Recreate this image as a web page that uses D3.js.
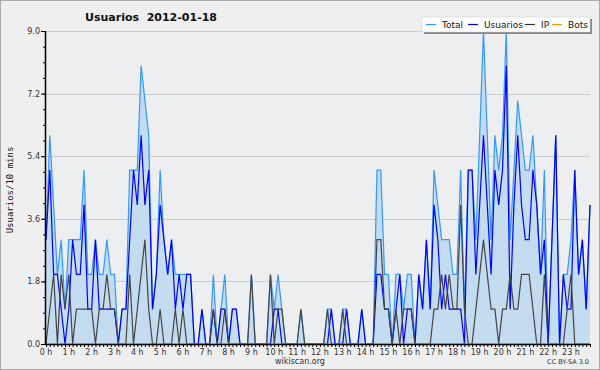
<!DOCTYPE html>
<html><head><meta charset="utf-8">
<script src="https://cdn.jsdelivr.net/npm/d3@7"></script>
<style>
html,body{margin:0;padding:0;background:#efefef;}
svg{display:block;}
</style></head>
<body>
<svg id="chart" width="600" height="370"></svg>
<script>
// ---- data (10-minute intervals, 144 points) ----
const total = [3,6,4,2,3,1,3,3,3,3,5,2,2,3,2,2,3,2,2,0,1,1,5,5,5,8,7,6,1,2,5,3,2,3,2,2,2,2,2,0,
0,1,0,0,2,0,1,2,0,1,1,0,0,0,2,0,0,0,0,2,1,2,1,0,0,0,0,1,0,0,0,0,0,0,1,1,0,0,1,1,
0,0,0,1,0,0,0,5,5,2,2,0,2,2,1,2,2,0,2,1,3,1,5,4,3,3,3,2,2,5,1,5,5,3,6,9,6,3,6,5,
6,9,3,5,7,6,5,5,6,4,2,5,0,3,6,0,2,2,3,5,2,3,1,4];
const usuarios = [3,5,2,2,1,0,1,3,2,2,4,1,1,3,1,1,1,1,1,0,1,1,3,5,4,6,4,5,1,2,4,3,2,3,1,2,1,2,2,0,
0,1,0,0,1,0,1,1,0,1,1,0,0,0,0,0,0,0,0,0,1,1,0,0,0,0,0,0,0,0,0,0,0,0,0,1,0,0,0,1,
0,0,0,1,0,0,0,2,2,1,1,0,1,2,0,1,1,0,2,1,3,1,4,3,1,2,1,1,1,1,0,5,5,2,4,6,4,2,5,4,
5,8,1,4,6,4,3,3,5,4,2,3,0,3,6,0,2,1,1,5,2,3,1,4];
const ip = [0,1,2,0,2,1,2,0,1,1,1,1,1,0,1,1,2,1,1,0,0,0,2,0,1,2,3,1,0,0,1,0,0,0,1,0,1,0,0,0,
0,0,0,0,1,0,0,1,0,0,0,0,0,0,2,0,0,0,0,2,0,1,1,0,0,0,0,1,0,0,0,0,0,0,1,0,0,0,1,0,
0,0,0,0,0,0,0,3,3,1,1,0,1,0,1,1,1,0,0,0,0,0,1,1,2,1,2,1,1,4,1,0,0,1,2,3,2,1,1,0,
1,1,2,1,1,2,2,2,1,0,0,2,0,0,0,0,0,1,2,0,0,0,0,0];
const bots = new Array(144).fill(0);
const seriesNames = ["Total","Usuarios","IP","Bots"];
const seriesColors = ["#3399ff","#0000ff","#333333","#ff9900"];
const yTicks = [0,1.8,3.6,5.4,7.2,9.0];
const hourLabels = d3.range(24).map(h => h + " h");
const title = "Usuarios  2012-01-18";
const yLabel = "Usuarios/10 mins";

// ---- layout ----
const svg = d3.select("#chart");
const L = 46, R = 590, T = 31, B = 344;
const x = d3.scaleLinear().domain([0, 143]).range([L, R]);
const y = d3.scaleLinear().domain([0, 9]).range([B, T]);

svg.append("rect").attr("x",0.5).attr("y",0.5).attr("width",599).attr("height",369)
  .attr("fill","#efefef").attr("stroke","#aaaaaa");
svg.append("rect").attr("x",L).attr("y",T).attr("width",R-L).attr("height",B-T)
  .attr("fill","#edeef0");

// grid
svg.append("g").selectAll("line").data(yTicks.filter(d=>d>0)).join("line")
  .attr("x1",L).attr("x2",R).attr("y1",d=>Math.round(y(d))+0.5).attr("y2",d=>Math.round(y(d))+0.5)
  .attr("stroke","#cccccc").attr("stroke-width",1);

// area
const idx = d3.range(144);
svg.append("path").datum(idx)
  .attr("d", d3.area().x(i=>x(i)).y0(y(0)).y1(i=>y(total[i])))
  .attr("fill","#c4dcf0");

const lineGen = arr => d3.line().x(i=>x(i)).y(i=>y(arr[i]))(idx);
[[total,"#3399ff"],[usuarios,"#0000ff"],[ip,"#444444"],[bots,"#ff9900"]].forEach(([arr,c])=>{
  svg.append("path").attr("d", lineGen(arr)).attr("fill","none")
    .attr("stroke",c).attr("stroke-width",1.2);
});

// y axis
const yAxis = d3.axisLeft(y).tickValues(yTicks).tickFormat(d3.format(".1f")).tickSize(5).tickPadding(1);
const gy = svg.append("g").attr("transform",`translate(${L},0)`).call(yAxis);
gy.select(".domain").attr("d",`M-0.5,${T}V${B}`).attr("stroke","#000").attr("stroke-width",1.5);
gy.selectAll("text").attr("font-family","DejaVu Sans").attr("font-size","8px").attr("fill","#333");
gy.selectAll(".tick line").attr("stroke","#000");
const gym = svg.append("g").attr("transform",`translate(${L},0)`)
  .call(d3.axisLeft(y).tickValues(d3.range(0,9.01,0.45)).tickFormat("").tickSize(3));
gym.select(".domain").remove();
gym.selectAll(".tick line").attr("stroke","#000");

// x axis
const gx = svg.append("g").attr("transform",`translate(0,${B})`)
  .call(d3.axisBottom(x).tickValues(idx).tickFormat("").tickSize(3));
gx.select(".domain").attr("d",`M${L},0.5H${R}`).attr("stroke","#000").attr("stroke-width",1.5);
gx.selectAll(".tick line").attr("stroke","#000");
svg.append("g").selectAll("text").data(hourLabels).join("text")
  .attr("x",(d,h)=>x(h*6)).attr("y",355).attr("text-anchor","middle")
  .attr("font-family","DejaVu Sans").attr("font-size","8px").attr("fill","#333").text(d=>d);

// titles
svg.append("text").attr("x",151).attr("y",21).attr("text-anchor","middle")
  .attr("font-family","DejaVu Sans").attr("font-weight","bold").attr("font-size","11px")
  .attr("fill","#111").attr("xml:space","preserve").style("white-space","pre").text(title);
svg.append("text").attr("transform","translate(13,190) rotate(-90)").attr("text-anchor","middle")
  .attr("font-family","DejaVu Sans Mono").attr("font-size","9px").attr("fill","#111").text(yLabel);
svg.append("text").attr("x",300).attr("y",364).attr("text-anchor","middle")
  .attr("font-family","DejaVu Sans").attr("font-size","8px").attr("fill","#333").text("wikiscan.org");
svg.append("text").attr("x",589).attr("y",364).attr("text-anchor","end")
  .attr("font-family","DejaVu Sans").attr("font-size","6.5px").attr("fill","#333").text("CC BY-SA 3.0");

// legend
const lg = svg.append("g");
lg.append("rect").attr("x",424).attr("y",19).attr("width",168).attr("height",15).attr("fill","#888");
lg.append("rect").attr("x",422).attr("y",17).attr("width",168).attr("height",15)
  .attr("fill","#ffffff").attr("stroke","#cccccc").attr("stroke-width",0.5);
const lx = [426,468,525,552];
seriesNames.forEach((n,k)=>{
  lg.append("line").attr("x1",lx[k]).attr("x2",lx[k]+10).attr("y1",24.5).attr("y2",24.5)
    .attr("stroke",seriesColors[k]).attr("stroke-width",1.2);
  lg.append("text").attr("x",lx[k]+16).attr("y",28).attr("font-family","DejaVu Sans")
    .attr("font-size","9px").attr("fill","#111").text(n);
});
</script>
</body></html>
